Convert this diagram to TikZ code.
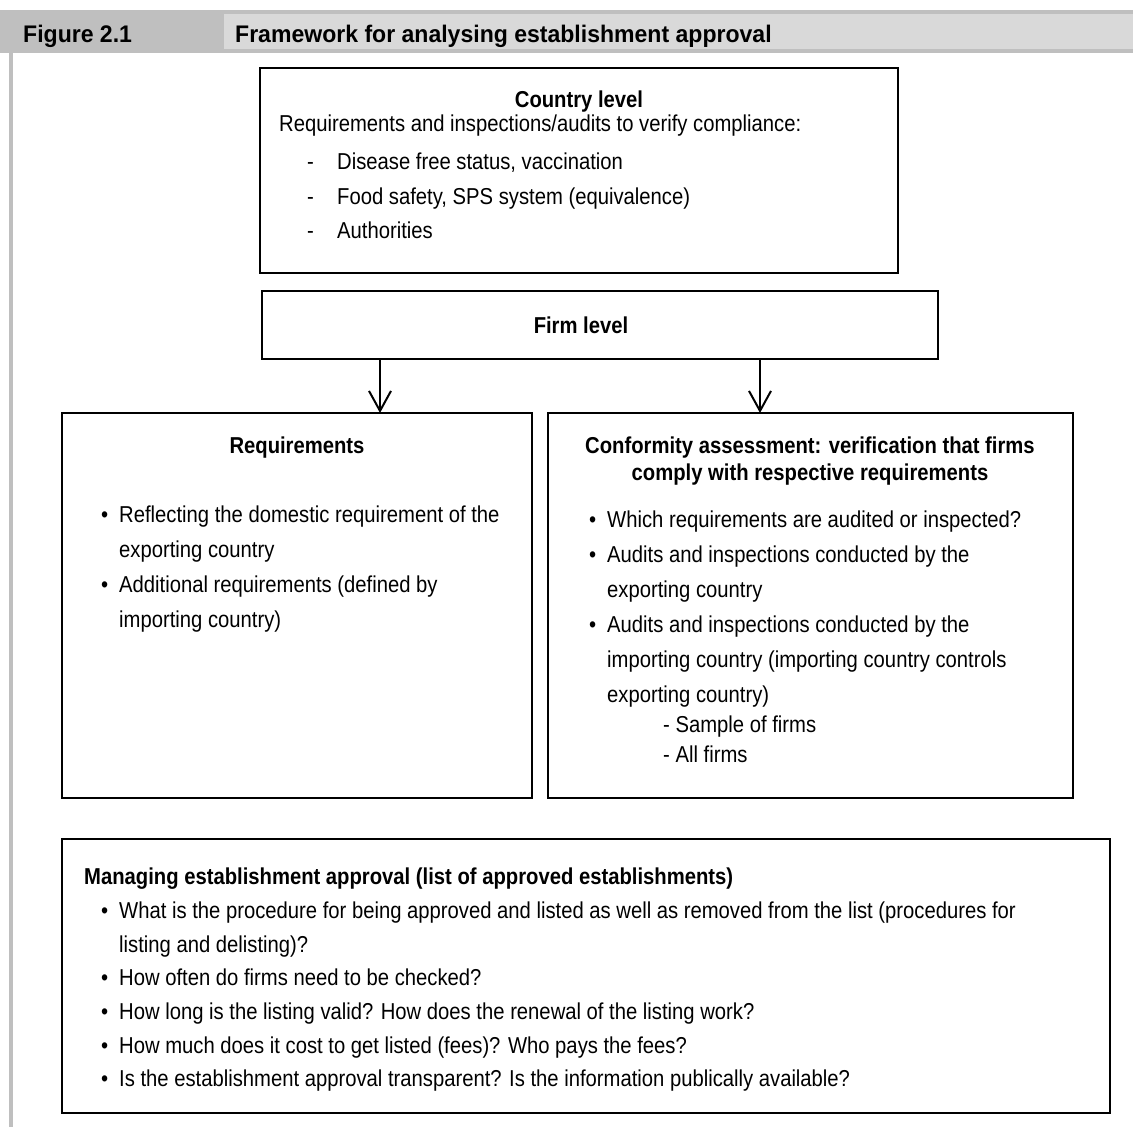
\documentclass[tikz,border=0pt]{standalone}
\usepackage{fontspec}
\setmainfont{Liberation Sans}[FakeStretch=0.88]
\newfontfamily\headfont{Liberation Sans}[FakeStretch=0.96]
\usetikzlibrary{arrows.meta}
\definecolor{hdark}{HTML}{BFBFBF}
\definecolor{hlight}{HTML}{D9D9D9}
\tikzset{
  box/.style={draw=black, line width=2.4pt, inner sep=0pt, outer sep=0pt, anchor=north west},
  txt/.style={anchor=base west, inner sep=0pt, font=\fontsize{23}{28}\selectfont},
  ttl/.style={anchor=base, inner sep=0pt, font=\fontsize{23}{28}\selectfont\bfseries},
  ttlw/.style={anchor=base west, inner sep=0pt, font=\fontsize{23}{28}\selectfont\bfseries},
  head/.style={anchor=base west, inner sep=0pt, font=\headfont\fontsize{24}{28}\selectfont\bfseries},
  flow/.style={line width=2pt, -{Straight Barb[length=20pt,width=22pt,line width=2pt]}},
}
\newcommand\bul[1]{\makebox[18pt][l]{\textbullet}#1}
\begin{document}
\begin{tikzpicture}[x=1pt,y=-1pt]
\useasboundingbox (0,0) rectangle (1133,1127);
% header
\fill[hdark] (0,10) rectangle (1133,53);
\fill[hlight] (224,14) rectangle (1133,49);
\fill[hdark] (9,53) rectangle (12.5,1127);
\node[head] (fig) at (23,42) {Figure 2.1};
\node[head] (figt) at (235,42) {Framework for analysing establishment approval};

% country box
\node[box, minimum width=638pt, minimum height=205pt] (cbox) at (260,68) {};
\node[ttl] (ct) at (579,107) {Country level};
\node[txt] (c0) at (279,131) {Requirements and inspections/audits to verify compliance:};
\node[txt] (cd1) at (307,169) {-};
\node[txt] (c1) at (337,169) {Disease free status, vaccination};
\node[txt] (cd2) at (307,204) {-};
\node[txt] (c2) at (337,204) {Food safety, SPS system (equivalence)};
\node[txt] (cd3) at (307,238) {-};
\node[txt] (c3) at (337,238) {Authorities};

% firm box
\node[box, minimum width=676pt, minimum height=68pt] (fbox) at (262,291) {};
\node[ttl] (ft) at (581,333) {Firm level};

% requirements box
\node[box, minimum width=470pt, minimum height=385pt] (rbox) at (62,413) {};
\node[ttl] (rt) at (297,453) {Requirements};
\node[txt] (r1) at (101,522) {\bul{Reflecting the domestic requirement of the}};
\node[txt] (r2) at (119,557) {exporting country};
\node[txt] (r3) at (101,592) {\bul{Additional requirements (defined by}};
\node[txt] (r4) at (119,627) {importing country)};

% conformity box
\node[box, minimum width=525pt, minimum height=385pt] (kbox) at (548,413) {};
\node[ttl] (kt1) at (810,453) {Conformity assessment: verification that firms};
\node[ttl] (kt2) at (810,480) {comply with respective requirements};
\node[txt] (k1) at (589,527) {\bul{Which requirements are audited or inspected?}};
\node[txt] (k2) at (589,562) {\bul{Audits and inspections conducted by the}};
\node[txt] (k3) at (607,597) {exporting country};
\node[txt] (k4) at (589,632) {\bul{Audits and inspections conducted by the}};
\node[txt] (k5) at (607,667) {importing country (importing country controls};
\node[txt] (k6) at (607,702) {exporting country)};
\node[txt] (k7) at (663,732) {- Sample of firms};
\node[txt] (k8) at (663,762) {- All firms};

% managing box
\node[box, minimum width=1048pt, minimum height=274pt] (mbox) at (62,839) {};
\node[ttlw] (mt) at (84,884) {Managing establishment approval (list of approved establishments)};
\node[txt] (m1) at (101,918) {\bul{What is the procedure for being approved and listed as well as removed from the list (procedures for}};
\node[txt] (m2) at (119,952) {listing and delisting)?};
\node[txt] (m3) at (101,985) {\bul{How often do firms need to be checked?}};
\node[txt] (m4) at (101,1019) {\bul{How long is the listing valid? How does the renewal of the listing work?}};
\node[txt] (m5) at (101,1053) {\bul{How much does it cost to get listed (fees)? Who pays the fees?}};
\node[txt] (m6) at (101,1086) {\bul{Is the establishment approval transparent? Is the information publically available?}};

% arrows
\coordinate (a1) at (380,0);
\coordinate (a2) at (760,0);
\draw[flow] (fbox.south -| a1) -- (rbox.north -| a1);
\draw[flow] (fbox.south -| a2) -- (kbox.north -| a2);
\end{tikzpicture}
\end{document}
